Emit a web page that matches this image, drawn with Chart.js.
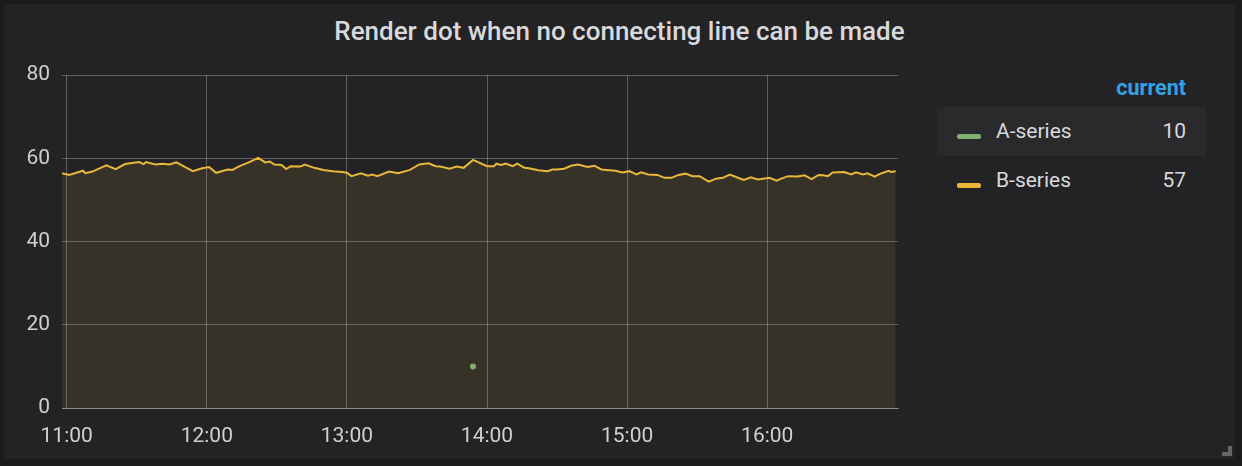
<!DOCTYPE html>
<html>
<head>
<meta charset="utf-8">
<script src="https://cdn.jsdelivr.net/npm/chart.js@4.4.1/dist/chart.umd.min.js"></script>
<style>
  html, body { margin: 0; padding: 0; }
  body { width: 1242px; height: 466px; background: #1c1c1f; overflow: hidden; position: relative; font-family: Roboto, "Noto Sans", sans-serif; }
  #panel { position: absolute; left: 4px; top: 4px; width: 1231px; height: 455px; background: #232326; border-radius: 3px; }
  #title { position: absolute; left: 4px; top: 16px; width: 1231px; height: 30px; line-height: 30px; text-align: center; color: #d8d9da; font-size: 26px; font-weight: 500; }
  #chartBox { position: absolute; left: 0; top: 0; width: 920px; height: 466px; }
  .lg-head { position: absolute; left: 1000px; width: 186px; top: 73px; height: 30px; line-height: 30px; text-align: right; color: #33a2e5; font-weight: 700; font-size: 21.5px; }
  .lg-row { position: absolute; left: 937px; width: 269px; height: 49px; line-height: 49px; font-size: 21px; color: #d8d9da; }
  .lg-row.hl { background: #2a2a2d; }
  .lg-sw { position: absolute; left: 20px; top: 27px; width: 24px; height: 5px; border-radius: 2px; }
  .lg-name { position: absolute; left: 59px; top: 0; }
  .lg-val { position: absolute; right: 20px; top: 0; text-align: right; }
  #handle { position: absolute; left: 1222px; top: 446px; width: 6px; height: 6px; border-right: 4px solid #666; border-bottom: 4px solid #666; }
</style>
</head>
<body>
<div id="panel"></div>
<div id="title">Render dot when no connecting line can be made</div>
<div id="chartBox"><canvas id="c" width="920" height="466" style="width:920px;height:466px"></canvas></div>
<div id="legend"></div>
<div id="handle"></div>
<script>
// ---- data ----
const seriesNames = ['A-series', 'B-series'];
const seriesColors = ['#7EB26D', '#EAB839'];

const aTimes = ['13:54'];
const aValues = [10];

const bTimes = ['10:58','11:01','11:07','11:08','11:11','11:17','11:21','11:25','11:31','11:33','11:34','11:38','11:41','11:44','11:47','11:51','11:54','11:58',
  '12:01','12:04','12:09','12:11','12:14','12:18','12:22','12:25','12:27','12:29','12:32','12:34','12:36','12:40','12:42','12:46','12:50','12:54','12:58',
  '13:00','13:02','13:06','13:09','13:11','13:13','13:18','13:22','13:27','13:31','13:35','13:38','13:40','13:44','13:47','13:50','13:54',
  '14:00','14:03','14:04','14:06','14:08','14:11','14:13','14:16','14:18','14:22','14:26','14:28','14:30','14:33','14:36','14:39','14:43','14:46','14:49','14:51','14:55','14:58',
  '15:01','15:04','15:06','15:09','15:13','15:16','15:19','15:22','15:25','15:28','15:31','15:35','15:38','15:41','15:44','15:48','15:50','15:53','15:56',
  '16:01','16:04','16:06','16:09','16:13','16:16','16:19','16:22','16:24','16:26','16:28','16:33','16:36','16:38','16:41','16:43','16:46','16:48','16:52','16:53','16:55'];
const bValues = [56.4,56.0,57.0,56.4,56.8,58.3,57.4,58.6,59.1,58.6,59.1,58.5,58.7,58.5,59.0,57.8,56.9,57.6,
  57.9,56.5,57.3,57.2,58.1,59.0,60.1,59.0,59.2,58.5,58.4,57.4,58.1,58.0,58.5,57.7,57.2,56.9,56.7,
  56.5,55.7,56.4,55.8,56.1,55.7,56.8,56.4,57.2,58.5,58.8,58.1,58.0,57.5,58.0,57.7,59.6,
  58.1,58.1,58.7,58.4,58.7,58.1,58.7,57.7,57.6,57.1,56.9,57.3,57.3,57.5,58.2,58.5,57.9,58.2,57.3,57.2,57.0,56.6,
  56.9,56.1,56.6,56.1,56.0,55.3,55.3,56.0,56.3,55.7,55.7,54.4,55.1,55.3,56.1,55.2,54.8,55.4,54.9,
  55.3,54.6,55.1,55.7,55.6,55.9,55.0,56.0,55.9,55.7,56.6,56.7,56.1,56.6,56.1,56.4,55.6,56.2,57.0,56.7,56.9];

const xTickLabels = ['11:00','12:00','13:00','14:00','15:00','16:00'];
const yTickValues = [0, 20, 40, 60, 80];
const timeRange = ['10:58', '16:56'];

// ---- helpers ----
function toMin(t) { const p = t.split(':'); return (parseInt(p[0], 10) - 11) * 60 + parseInt(p[1], 10); }
function fmt(m) { const h = 11 + Math.floor(m / 60); const mm = Math.round(m - Math.floor(m / 60) * 60); return String(h).padStart(2, '0') + ':' + String(mm).padStart(2, '0'); }

const aData = aTimes.map((t, i) => ({ x: toMin(t), y: aValues[i] }));
const bData = bTimes.map((t, i) => ({ x: toMin(t), y: bValues[i] }));

const tickColor = '#cfd0d1';
const gridColor = 'rgba(255,255,255,0.27)';

new Chart(document.getElementById('c'), {
  type: 'line',
  data: {
    datasets: [
      { label: seriesNames[0], data: aData, borderColor: seriesColors[0], backgroundColor: seriesColors[0],
        showLine: false, fill: false, pointRadius: 3, pointBorderWidth: 0, pointHoverRadius: 3 },
      { label: seriesNames[1], data: bData, borderColor: seriesColors[1], backgroundColor: 'rgba(234,184,57,0.1)',
        borderWidth: 2, fill: 'origin', pointRadius: 0, tension: 0 }
    ]
  },
  options: {
    responsive: false,
    animation: false,
    layout: { padding: { top: 75, right: 22, bottom: 0, left: 0 } },
    plugins: { legend: { display: false }, title: { display: false }, tooltip: { enabled: false } },
    scales: {
      x: {
        type: 'linear',
        min: toMin(timeRange[0]),
        max: toMin(timeRange[1]),
        afterBuildTicks: s => { s.ticks = xTickLabels.map(l => ({ value: toMin(l) })); },
        afterFit: s => { s.height = 58; },
        ticks: { callback: v => fmt(v), color: tickColor, font: { family: 'Roboto', size: 21 }, padding: 16, maxRotation: 0, autoSkip: false },
        grid: { color: gridColor, drawTicks: false, lineWidth: 1 },
        border: { display: true, color: 'rgba(255,255,255,0.3)' }
      },
      y: {
        min: yTickValues[0],
        max: yTickValues[yTickValues.length - 1],
        afterBuildTicks: s => { s.ticks = yTickValues.map(v => ({ value: v })); },
        afterFit: s => { s.width = 62; },
        ticks: { color: tickColor, font: { family: 'Roboto', size: 21 }, padding: 12 },
        grid: { color: gridColor, drawTicks: false, lineWidth: 1 },
        border: { display: false }
      }
    }
  }
});

// ---- legend table ----
const legend = document.getElementById('legend');
const head = document.createElement('div');
head.className = 'lg-head';
head.textContent = 'current';
legend.appendChild(head);
const allValues = [aValues, bValues];
seriesNames.forEach((name, i) => {
  const row = document.createElement('div');
  row.className = 'lg-row' + (i === 0 ? ' hl' : '');
  row.style.top = (107 + i * 49) + 'px';
  const sw = document.createElement('div');
  sw.className = 'lg-sw';
  sw.style.background = seriesColors[i];
  const nm = document.createElement('div');
  nm.className = 'lg-name';
  nm.textContent = name;
  const vl = document.createElement('div');
  vl.className = 'lg-val';
  const vals = allValues[i];
  vl.textContent = Math.round(vals[vals.length - 1]);
  row.appendChild(sw); row.appendChild(nm); row.appendChild(vl);
  legend.appendChild(row);
});
</script>
</body>
</html>
